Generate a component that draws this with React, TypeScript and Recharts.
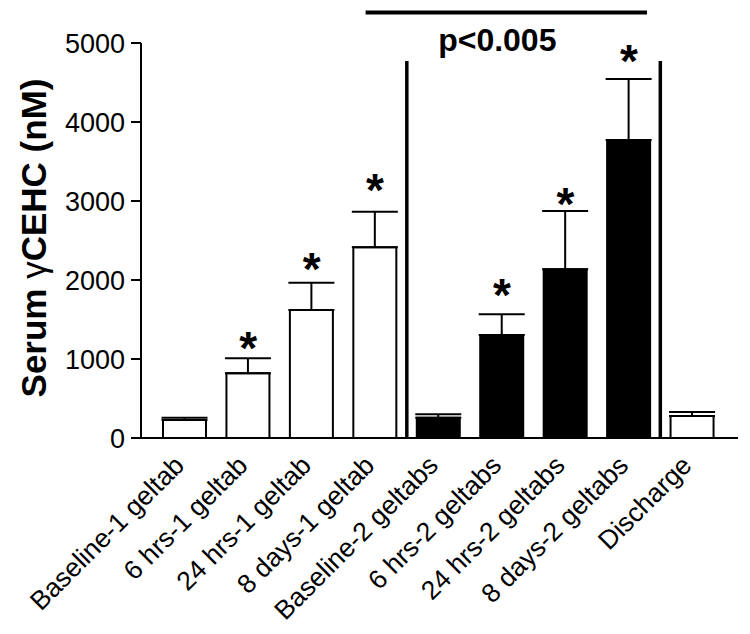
import { ComposedChart, Bar, Cell, ErrorBar, Scatter, XAxis, YAxis, ReferenceLine } from 'recharts'

const categories = [
  'Baseline-1 geltab',
  '6 hrs-1 geltab',
  '24 hrs-1 geltab',
  '8 days-1 geltab',
  'Baseline-2 geltabs',
  '6 hrs-2 geltabs',
  '24 hrs-2 geltabs',
  '8 days-2 geltabs',
  'Discharge',
]
const means = [228, 819, 1620, 2414, 257, 1304, 2135, 3772, 278]
const errors = [29, 190, 346, 451, 43, 262, 738, 772, 51]
const geltabs = [1, 1, 1, 1, 2, 2, 2, 2, 0]
const starAt: (number | null)[] = [null, 1253, 2253, 3259, null, 1918, 3070, 4890, null]
const yTicks = [0, 1000, 2000, 3000, 4000, 5000]

const FONT = 'Liberation Sans, Arial, Helvetica, sans-serif'

const data = categories.map((name, i) => ({
  name,
  idx: i,
  mean: means[i],
  err: [0, errors[i]],
  star: starAt[i],
  geltabs: geltabs[i],
}))

function XTick({ x, y, payload }: any) {
  return (
    <g transform={`translate(${x + 1},${y + 29})`}>
      <text textAnchor="end" transform="rotate(-45)" fontFamily={FONT} fontSize={26.5} fill="#000">
        {payload.value}
      </text>
    </g>
  )
}

function Star(props: any) {
  if (props.payload?.star == null) return <g />
  return (
    <text x={props.cx} y={props.cy + 25} textAnchor="middle" fontFamily={FONT} fontWeight="bold" fontSize={46} fill="#000">
      *
    </text>
  )
}

function PLabel({ viewBox }: any) {
  const { x, y, width } = viewBox
  return (
    <text x={x + width / 2 - 9} y={y + 38} textAnchor="middle" fontFamily={FONT} fontWeight="bold" fontSize={32} fill="#000">
      p&lt;0.005
    </text>
  )
}

function YLabel() {
  return (
    <text x={46} y={238} transform="rotate(-90 46 238)" textAnchor="middle" fontFamily={FONT} fontSize={35} fill="#000">
      <tspan fontWeight="bold">Serum </tspan>
      <tspan>γ</tspan>
      <tspan fontWeight="bold">CEHC (nM)</tspan>
    </text>
  )
}

export default function App() {
  return (
    <div style={{ position: 'absolute', left: 0, top: 0, background: '#fff' }}>
      <ComposedChart width={750} height={634} data={data} margin={{ top: 43, right: 12, bottom: 166, left: 0 }}>
        <XAxis
          dataKey="name"
          type="category"
          height={30}
          padding={{ left: 12, right: 14 }}
          axisLine={{ stroke: '#000', strokeWidth: 2 }}
          tickLine={false}
          tickSize={0}
          tickMargin={0}
          interval={0}
          tick={<XTick />}
        />
        {/* index axis lined up with the bar centres, for the dividers */}
        <XAxis
          xAxisId="n"
          dataKey="idx"
          type="number"
          domain={['dataMin', 'dataMax']}
          padding={{ left: 44, right: 46 }}
          hide
        />
        <YAxis
          width={141}
          domain={[0, 5000]}
          ticks={yTicks}
          interval={0}
          axisLine={{ stroke: '#000', strokeWidth: 2 }}
          tickLine={{ stroke: '#000', strokeWidth: 2 }}
          tickSize={10}
          tickMargin={6}
          tick={{ fill: '#000', fontSize: 27, fontFamily: FONT }}
          label={<YLabel />}
        />
        <Bar dataKey="mean" barSize={43} stroke="#000" strokeWidth={2} isAnimationActive={false}>
          {data.map((d, i) => (
            <Cell key={i} fill={d.geltabs === 2 ? '#000' : '#fff'} />
          ))}
          <ErrorBar dataKey="err" width={23} stroke="#000" strokeWidth={2} isAnimationActive={false} />
        </Bar>
        <Scatter dataKey="star" shape={<Star />} isAnimationActive={false} />
        <ReferenceLine
          xAxisId="n"
          segment={[{ x: 3.5, y: 0 }, { x: 3.5, y: 4772 }]}
          stroke="#000"
          strokeWidth={3.5}
          ifOverflow="visible"
        />
        <ReferenceLine
          xAxisId="n"
          segment={[{ x: 7.5, y: 0 }, { x: 7.5, y: 4772 }]}
          stroke="#000"
          strokeWidth={3.5}
          ifOverflow="visible"
        />
        <ReferenceLine
          xAxisId="n"
          segment={[{ x: 2.85, y: 5386 }, { x: 7.29, y: 5386 }]}
          stroke="#000"
          strokeWidth={4}
          ifOverflow="visible"
          label={<PLabel />}
        />
      </ComposedChart>
    </div>
  )
}
